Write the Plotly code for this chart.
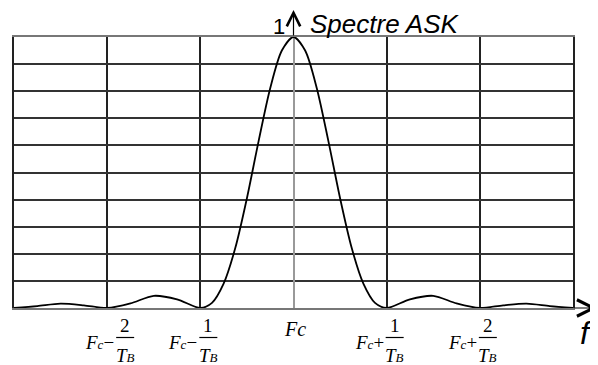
import plotly.graph_objects as go

# spectre ASK (f en multiples de 1/TB autour de Fc)
freq = [-3, -2.75, -2.5, -2.25, -2, -1.75, -1.5, -1.25, -1,
        -0.875, -0.75, -0.625, -0.5, -0.375, -0.25, -0.125, 0,
        0.125, 0.25, 0.375, 0.5, 0.625, 0.75, 0.875,
        1, 1.25, 1.5, 1.75, 2, 2.25, 2.5, 2.75, 3]
ampl = [0, 0.007, 0.016, 0.010, 0, 0.017, 0.045, 0.032, 0,
        0.019, 0.090, 0.221, 0.405, 0.615, 0.811, 0.950, 1,
        0.950, 0.811, 0.615, 0.405, 0.221, 0.090, 0.019,
        0, 0.032, 0.045, 0.017, 0, 0.010, 0.016, 0.007, 0]

tick_vals = [-2, -1, 0, 1, 2]
tick_signs = ['−', '−', '', '+', '+']
tick_nums = ['2', '1', '', '1', '2']
label_nudge = [10, 0, 0, 0, 0]

SERIF = 'Liberation Serif'
SANS = 'Liberation Sans'

fig = go.Figure()
fig.add_trace(go.Scatter(x=freq, y=ampl, mode='lines',
                         line=dict(color='black', width=1.8, shape='spline', smoothing=0.8),
                         hoverinfo='skip'))

annotations = []
shapes = []
for t, sign, num, nudge in zip(tick_vals, tick_signs, tick_nums, label_nudge):
    px = (t + 3) / 6
    if num == '':
        annotations.append(dict(x=px, y=0, xref='paper', yref='paper', text='<i>Fc</i>',
                                showarrow=False, xanchor='center', yanchor='middle',
                                xshift=1, yshift=-21, font=dict(family=SERIF, size=20, color='black')))
        continue
    annotations.append(dict(x=px, y=0, xref='paper', yref='paper',
                            text="<i>F<span style='font-size:13px'>c</span></i>" + sign,
                            showarrow=False, xanchor='right', yanchor='middle',
                            xshift=-1 + nudge, yshift=-34,
                            font=dict(family=SERIF, size=19, color='black')))
    annotations.append(dict(x=px, y=0, xref='paper', yref='paper', text=num,
                            showarrow=False, xanchor='center', yanchor='middle',
                            xshift=8 + nudge, yshift=-17,
                            font=dict(family=SERIF, size=19, color='black')))
    annotations.append(dict(x=px, y=0, xref='paper', yref='paper',
                            text="<i>T<span style='font-size:13px'>B</span></i>",
                            showarrow=False, xanchor='center', yanchor='middle',
                            xshift=8 + nudge, yshift=-47,
                            font=dict(family=SERIF, size=19, color='black'), borderpad=0))
    shapes.append(dict(type='line', xref='paper', yref='paper',
                       xsizemode='pixel', xanchor=px, x0=-1 + nudge, x1=17 + nudge,
                       ysizemode='pixel', yanchor=0, y0=-29.5, y1=-29.5,
                       line=dict(color='black', width=1.2)))

# fleches des axes
annotations.append(dict(x=0.5, y=1.0996, xref='paper', yref='paper', ax=0, ay=27,
                        showarrow=True, arrowhead=5, arrowsize=2.2, arrowwidth=1.2,
                        arrowcolor='black', text=''))
annotations.append(dict(x=1.043, y=0, xref='paper', yref='paper', ax=-24, ay=0,
                        showarrow=True, arrowhead=5, arrowsize=2.7, arrowwidth=1.2,
                        arrowcolor='black', text=''))
annotations.append(dict(x=0.5, y=1, xref='paper', yref='paper', text='1',
                        showarrow=False, xanchor='right', yanchor='middle', xshift=-8, yshift=11,
                        font=dict(family=SANS, size=22, color='black'), borderpad=0))
annotations.append(dict(x=0.5, y=1, xref='paper', yref='paper', text='<i>Spectre ASK</i>',
                        showarrow=False, xanchor='left', yanchor='middle', xshift=15, yshift=13,
                        font=dict(family=SANS, size=26, color='black'), borderpad=0))
annotations.append(dict(x=1, y=0, xref='paper', yref='paper', text='<i>f</i>',
                        showarrow=False, xanchor='left', yanchor='middle', xshift=5, yshift=-25,
                        font=dict(family=SANS, size=32, color='black')))

# la page ajoute une marge de 8 px en haut et a gauche
fig.update_layout(
    width=590, height=357,
    margin=dict(l=6, r=25, t=29, b=57),
    plot_bgcolor='white', paper_bgcolor='white',
    showlegend=False,
    xaxis=dict(range=[-3, 3], tickvals=list(range(-3, 4)), showticklabels=False,
               showgrid=True, gridcolor='#222', gridwidth=1.5,
               zeroline=True, zerolinecolor='#999', zerolinewidth=1.5,
               showline=True, mirror=True, linecolor='#777', linewidth=1.5, ticks=''),
    yaxis=dict(range=[0, 1], tick0=0, dtick=0.1, showticklabels=False,
               showgrid=True, gridcolor='#333', gridwidth=1.5,
               zeroline=True, zerolinecolor='#888', zerolinewidth=1.5,
               showline=True, mirror=True, linecolor='#222', linewidth=1.5, ticks=''),
    annotations=annotations,
    shapes=shapes,
)

fig.write_html("out.html")
